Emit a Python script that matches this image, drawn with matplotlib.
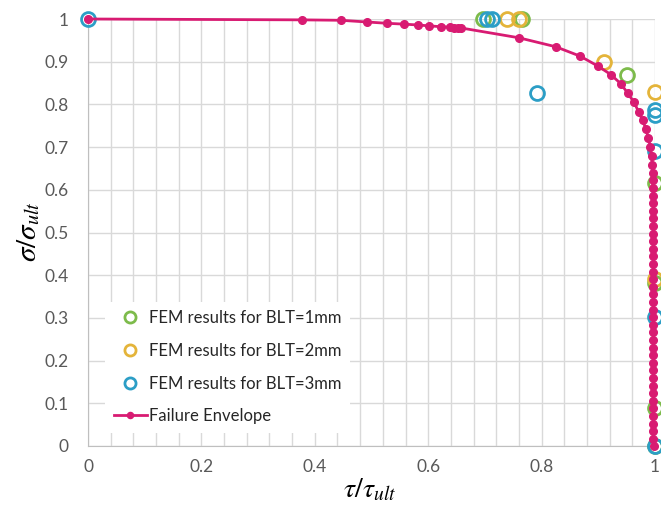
import matplotlib
matplotlib.use('Agg')
import matplotlib.pyplot as plt

plt.rcParams['font.family'] = ['Lato', 'DejaVu Sans']
plt.rcParams['mathtext.fontset'] = 'stix'

# FEM results (tau/tau_ult, sigma/sigma_ult)
blt1_x = [0.697, 0.765, 0.951, 1.0, 1.0, 1.0, 1.0]
blt1_y = [1.0, 1.0, 0.869, 0.616, 0.382, 0.088, 0.0]
blt2_x = [0.739, 0.760, 0.910, 1.0, 1.0]
blt2_y = [1.0, 1.0, 0.899, 0.829, 0.390]
blt3_x = [0.0, 0.703, 0.712, 0.792, 1.0, 1.0, 1.0, 1.0, 1.0]
blt3_y = [1.0, 1.0, 1.0, 0.826, 0.786, 0.775, 0.690, 0.302, 0.0]

# failure envelope points
env_x = [0.0, 0.377, 0.446, 0.492, 0.527, 0.557, 0.582, 0.601, 0.622, 0.638,
         0.645, 0.652, 0.658, 0.760, 0.825, 0.868, 0.899, 0.922, 0.940, 0.952,
         0.963, 0.971, 0.978, 0.984, 0.988, 0.992, 0.994, 0.995,
         0.996, 0.996, 0.996, 0.997, 0.997, 0.997, 0.997, 0.997, 0.997, 0.997,
         0.997, 0.997, 0.997, 0.997, 0.997, 0.997, 0.997, 0.997, 0.997, 0.997,
         0.997, 0.997, 0.997, 0.997, 0.997, 0.997, 0.997, 0.997, 0.997, 0.997,
         0.997, 0.997, 0.997, 0.997, 0.997, 0.997, 0.998]
env_y = [1.0, 0.998, 0.997, 0.993, 0.990, 0.988, 0.986, 0.984, 0.982, 0.981,
         0.980, 0.979, 0.979, 0.956, 0.935, 0.913, 0.890, 0.870, 0.848, 0.826,
         0.805, 0.783, 0.763, 0.743, 0.722, 0.700, 0.678, 0.658,
         0.640, 0.622, 0.604, 0.586, 0.569, 0.551, 0.533, 0.515, 0.497, 0.480,
         0.462, 0.444, 0.426, 0.408, 0.391, 0.373, 0.355, 0.337, 0.319, 0.302,
         0.284, 0.266, 0.248, 0.230, 0.213, 0.195, 0.177, 0.159, 0.141, 0.124,
         0.106, 0.088, 0.070, 0.052, 0.035, 0.017, 0.0]

x_ticks = [0, 0.2, 0.4, 0.6, 0.8, 1.0]
x_labels = ['0', '0.2', '0.4', '0.6', '0.8', '1']
x_minor = [0.04, 0.08, 0.12, 0.16, 0.24, 0.28, 0.32, 0.36, 0.44, 0.48, 0.52,
           0.56, 0.64, 0.68, 0.72, 0.76, 0.84, 0.88, 0.92, 0.96]
y_ticks = [0, 0.1, 0.2, 0.3, 0.4, 0.5, 0.6, 0.7, 0.8, 0.9, 1.0]
y_labels = ['0', '0.1', '0.2', '0.3', '0.4', '0.5', '0.6', '0.7', '0.8', '0.9', '1']

green = '#7DBB4B'
gold = '#E4B43A'
blue = '#2C9EC6'
pink = '#D81B72'

fig = plt.figure(figsize=(6.61, 5.09), dpi=100)
ax = fig.add_axes([88 / 661, 63 / 509, 567 / 661, 427 / 509])

ring = dict(linestyle='none', marker='o', markersize=10, markerfacecolor='none',
            markeredgewidth=2.0, clip_on=False, zorder=3)
ax.plot(blt1_x, blt1_y, markeredgecolor=green, label='FEM results for BLT=1mm', **ring)
ax.plot(blt2_x, blt2_y, markeredgecolor=gold, label='FEM results for BLT=2mm', **ring)
ax.plot(blt3_x, blt3_y, markeredgecolor=blue, label='FEM results for BLT=3mm', **ring)
ax.plot(env_x, env_y, color=pink, linewidth=2.0, marker='o', markersize=5.5,
        clip_on=False, zorder=4, label='Failure Envelope')

ax.set_xlim(0, 1)
ax.set_ylim(0, 1)
ax.set_xticks(x_ticks, x_labels)
ax.set_xticks(x_minor, minor=True)
ax.set_yticks(y_ticks, y_labels)
ax.grid(which='both', color='#D9D9D9', linewidth=1.0, zorder=0)
ax.set_axisbelow(True)
ax.tick_params(which='both', length=0, labelsize=12.5, labelcolor='#595959')
ax.tick_params(axis='y', pad=14)
ax.tick_params(axis='x', pad=9)
for side in ['top', 'right']:
    ax.spines[side].set_visible(False)
for side in ['left', 'bottom']:
    ax.spines[side].set_color('#BFBFBF')

fig.text(29 / 661, 1 - 232 / 509, r'$\sigma/\sigma_{ult}$', rotation=90,
         ha='center', va='center', fontsize=21)
fig.text(370 / 661, 1 - 490 / 509, r'$\tau/\tau_{ult}$',
         ha='center', va='center', fontsize=20)

leg = ax.legend(loc='lower left', bbox_to_anchor=(0.016, 0.012), fontsize=12,
                frameon=True, facecolor='white', edgecolor='none', framealpha=1,
                markerscale=0.8, labelspacing=1.0, handlelength=2.0,
                handletextpad=0.1, borderpad=0.5, fancybox=False)
for t in leg.get_texts():
    t.set_color('#262626')

fig.savefig('out.png', dpi=100)
